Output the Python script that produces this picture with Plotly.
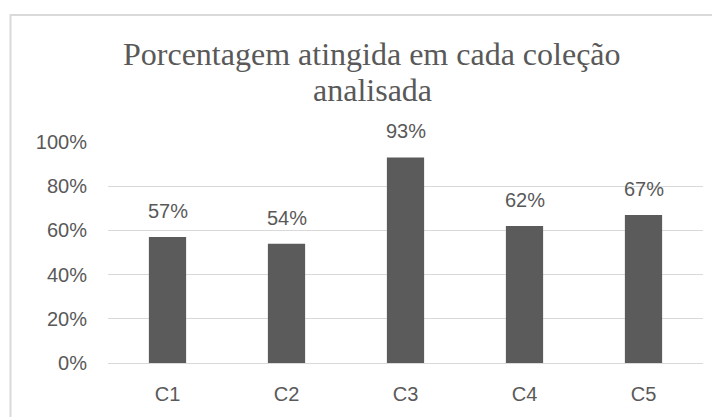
import plotly.graph_objects as go

categories = ["C1", "C2", "C3", "C4", "C5"]
values = [0.57, 0.54, 0.93, 0.62, 0.67]
labels = ["57%", "54%", "93%", "62%", "67%"]
tick_vals = [0, 0.2, 0.4, 0.6, 0.8, 1.0]
tick_text = ["0%", "20%", "40%", "60%", "80%", "100%"]
title_lines = ["Porcentagem atingida em cada coleção", "analisada"]

# page body has an 8px margin; figure coordinates = screen - 8
W, H = 712, 409
L, R, T, B = 100, 17, 134, 54
pw, ph = W - L - R, H - T - B

GRAY = "#595959"
SANS = "Liberation Sans, Arial"
SERIF = "Liberation Serif, Times New Roman"


def px_x(x):
    return (x - L) / pw


def px_y(y):
    return (H - B - y) / ph


fig = go.Figure(go.Bar(
    x=categories, y=values,
    marker=dict(color="#5b5b5b", line=dict(width=0)),
    cliponaxis=False, width=0.313,
))

annotations = []
for c, v, t in zip(categories, values, labels):
    annotations.append(dict(
        x=c, y=v, xref="x", yref="y", text=t, showarrow=False,
        yanchor="middle", yshift=26,
        font=dict(family=SANS, size=20, color=GRAY),
    ))

title_y = [46, 82]
for line, ty in zip(title_lines, title_y):
    annotations.append(dict(
        x=px_x(364), y=px_y(ty), xref="paper", yref="paper", text=line,
        showarrow=False, xanchor="center", yanchor="middle",
        font=dict(family=SERIF, size=32, color=GRAY),
    ))

fig.update_layout(
    width=W, height=H,
    margin=dict(l=L, r=R, t=T, b=B),
    paper_bgcolor="white", plot_bgcolor="white",
    showlegend=False,
    annotations=annotations,
    xaxis=dict(
        showgrid=False, showline=False, ticks="", zeroline=False,
        tickfont=dict(family=SANS, size=20, color=GRAY),
        ticklabelstandoff=17,
    ),
    yaxis=dict(
        range=[0, 1.0], tickvals=tick_vals, ticktext=tick_text,
        showgrid=True, gridcolor="#d9d9d9", gridwidth=1,
        zeroline=True, zerolinecolor="#d9d9d9", zerolinewidth=1,
        showline=False, ticks="",
        tickfont=dict(family=SANS, size=20, color=GRAY),
        ticklabelstandoff=20,
    ),
    shapes=[dict(
        type="rect", xref="paper", yref="paper",
        x0=px_x(2.5), x1=px_x(730), y0=px_y(430), y1=px_y(7),
        line=dict(color="#d9d9d9", width=2), fillcolor="rgba(0,0,0,0)", layer="below",
    )],
)

fig.write_html("out.html")
